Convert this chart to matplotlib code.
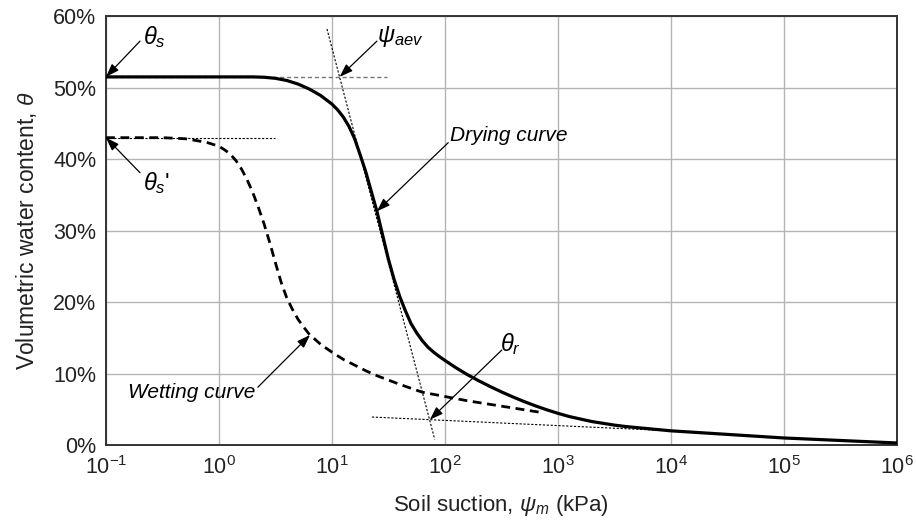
import matplotlib
matplotlib.use("Agg")
import numpy as np
from matplotlib import pyplot as plt
from matplotlib.ticker import FixedLocator, FuncFormatter, NullLocator

plt.rcParams['font.family'] = ['Liberation Sans', 'DejaVu Sans']
plt.rcParams['mathtext.fontset'] = 'custom'
plt.rcParams['mathtext.rm'] = 'Liberation Sans'
plt.rcParams['mathtext.it'] = 'Liberation Sans:italic'
plt.rcParams['mathtext.bf'] = 'Liberation Sans:bold'

# values: suction as log10(kPa), water content in %
dry_log_psi = [-1.0, 0.3, 0.4, 0.5, 0.6, 0.7, 0.8, 0.9, 1.0, 1.05, 1.1, 1.15, 1.2,
               1.25, 1.3, 1.35, 1.4, 1.45, 1.5, 1.55, 1.6, 1.65, 1.7, 1.75, 1.8,
               1.85, 1.9, 1.95, 2.0, 2.1, 2.2, 2.3, 2.4, 2.5, 2.6, 2.7, 2.8, 2.9,
               3.0, 3.1, 3.2, 3.3, 3.4, 3.5, 3.6, 3.8, 4.0, 4.5, 5.0, 5.5, 6.0]
dry_theta = [51.5, 51.5, 51.45, 51.3, 51.0, 50.5, 49.8, 48.9, 47.7, 46.9, 45.9, 44.6, 42.9,
             40.6, 38.2, 35.4, 32.6, 29.3, 26.0, 23.2, 20.8, 18.8, 17.0, 15.7, 14.6,
             13.7, 13.0, 12.4, 11.85, 10.8, 9.85, 9.0, 8.2, 7.45, 6.75, 6.1, 5.5, 4.95,
             4.45, 4.0, 3.65, 3.3, 3.05, 2.8, 2.6, 2.3, 2.0, 1.5, 1.0, 0.65, 0.3]

wet_log_psi = [-1.0, -0.5, -0.3, -0.2, -0.1, 0.0, 0.05, 0.1, 0.15, 0.2, 0.25, 0.3,
               0.35, 0.4, 0.45, 0.5, 0.55, 0.6, 0.65, 0.7, 0.75, 0.8, 0.9, 1.0,
               1.1, 1.2, 1.3, 1.4, 1.5, 1.6, 1.8, 2.0, 2.2, 2.4, 2.6, 2.84]
wet_theta = [43.0, 43.0, 42.85, 42.6, 42.3, 41.8, 41.3, 40.7, 39.8, 38.6, 37.1, 35.3,
             33.2, 30.9, 28.3, 25.5, 22.8, 20.6, 19.0, 17.6, 16.5, 15.5, 14.1, 13.0,
             12.0, 11.2, 10.4, 9.7, 9.1, 8.5, 7.4, 6.8, 6.2, 5.7, 5.2, 4.6]

# construction lines (start, end)
sat_line_psi = [0.1, 30.7]
sat_line_theta = [51.5, 51.5]
sat2_line_psi = [0.1, 3.13]
sat2_line_theta = [43.0, 43.0]
steep_psi = [9.04, 81.3]
steep_theta = [58.2, 0.8]
resid_psi = [22.6, 10000]
resid_theta = [3.93, 2.0]

x_ticks = [0.1, 1, 10, 100, 1000, 1e4, 1e5, 1e6]
x_tick_labels = ['$10^{-1}$', '$10^{0}$', '$10^{1}$', '$10^{2}$',
                 '$10^{3}$', '$10^{4}$', '$10^{5}$', '$10^{6}$']
y_ticks = [0, 10, 20, 30, 40, 50, 60]

fig = plt.figure(figsize=(9.16, 5.2), dpi=100)
ax = fig.add_axes([0.1157, 0.144, 0.8633, 0.825])

ax.plot(sat_line_psi, sat_line_theta, color='#777777', lw=1.0, dashes=(3, 2), zorder=2)
ax.plot(sat2_line_psi, sat2_line_theta, color='black', lw=0.8, dashes=(2, 1.5), zorder=2)
ax.plot(steep_psi, steep_theta, color='black', lw=0.8, dashes=(2, 1.5), zorder=2)
ax.plot(resid_psi, resid_theta, color='black', lw=0.8, dashes=(2, 1.5), zorder=2)

ax.plot(np.power(10.0, dry_log_psi), dry_theta, color='black', lw=2.3, zorder=3)
ax.plot(np.power(10.0, wet_log_psi), wet_theta, color='black', lw=2.0, dashes=(3.2, 2), zorder=3)

ax.set_xscale('log')
ax.set_xlim(0.1, 1e6)
ax.set_ylim(0, 60)
ax.xaxis.set_major_locator(FixedLocator(x_ticks))
ax.xaxis.set_minor_locator(NullLocator())
ax.set_xticklabels(x_tick_labels)
ax.yaxis.set_major_locator(FixedLocator(y_ticks))
ax.yaxis.set_major_formatter(FuncFormatter(lambda v, p: '%d%%' % v))
ax.tick_params(axis='both', length=0, labelsize=15.5, colors='#222222')
ax.tick_params(axis='x', pad=8)
ax.tick_params(axis='y', pad=7)
ax.grid(True, color='#b4b4b4', lw=1.0, zorder=1)
for s in ax.spines.values():
    s.set_color('#333333')
    s.set_linewidth(1.4)

ax.set_xlabel(r'Soil suction, $\psi_m$ (kPa)', fontsize=16, color='#222222', labelpad=10)
ax.set_ylabel(r'Volumetric water content, $\theta$', fontsize=16.5, color='#222222', labelpad=10)

arrow = dict(arrowstyle='-|>,head_length=0.8,head_width=0.28', lw=0.9, color='black',
             shrinkA=0, shrinkB=0)

def pointer(tip, tail):
    ax.annotate('', xy=tip, xytext=tail, arrowprops=arrow, annotation_clip=False, zorder=4)

pointer((0.1, 51.5), (0.2, 56.5))
ax.text(0.212, 57.1, r'$\theta_s$', fontsize=17, va='center', ha='left')

pointer((0.1, 43.0), (0.2, 38.1))
ax.text(0.212, 36.7, r"$\theta_s$'", fontsize=17, va='center', ha='left')

pointer((11.7, 51.5), (25.0, 56.5))
ax.text(25.0, 57.1, r'$\psi_{aev}$', fontsize=17, va='center', ha='left')

pointer((25.0, 32.7), (107, 42.3))
ax.text(110, 43.3, 'Drying curve', fontsize=15, style='italic', va='center', ha='left')

pointer((6.4, 15.4), (2.21, 8.1))
ax.text(2.12, 7.4, 'Wetting curve', fontsize=15, style='italic', va='center', ha='right')

pointer((73.6, 3.55), (319, 13.3))
ax.text(310, 14.2, r'$\theta_r$', fontsize=17, va='center', ha='left')

fig.savefig('out.png', dpi=100)
